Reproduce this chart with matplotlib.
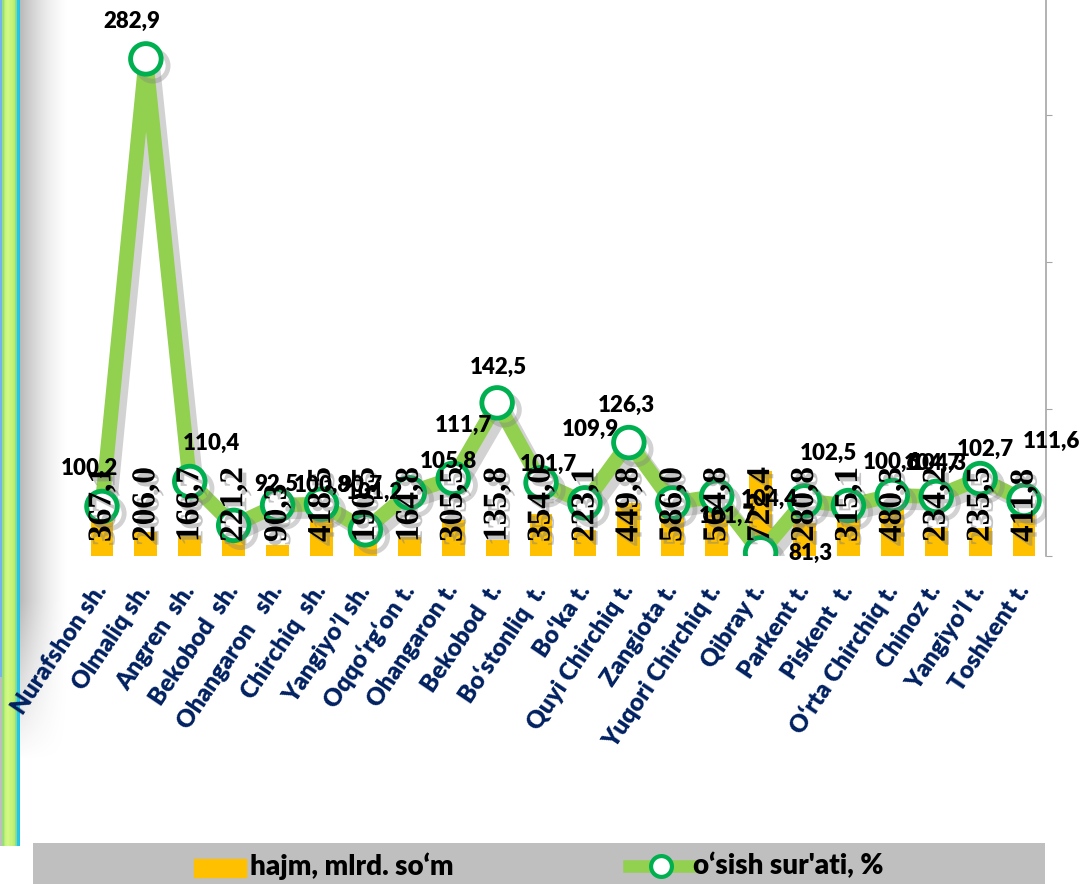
import numpy as np
import matplotlib
matplotlib.use("Agg")
import matplotlib.pyplot as plt
import matplotlib.patheffects as pe
from matplotlib.patches import Rectangle
from matplotlib.lines import Line2D

plt.rcParams['font.family'] = ['Lato', 'DejaVu Sans']

districts = ["Nurafshon sh.", "Olmaliq sh.", "Angren  sh.", "Bekobod  sh.", "Ohangaron   sh.",
             "Chirchiq  sh.", "Yangiyo’l sh.", "Oqqo‘rg‘on t.", "Ohangaron t.", "Bekobod  t.",
             "Bo‘stonliq  t.", "Bo‘ka t.", "Quyi Chirchiq t.", "Zangiota t.", "Yuqori Chirchiq t.",
             "Qibray t.", "Parkent t.", "Piskent  t.", "O‘rta Chirchiq t.", "Chinoz t.",
             "Yangiyo’l t.", "Toshkent t."]

# hajm, mlrd. so'm
volume = [367.1, 206.0, 166.7, 221.2, 90.3, 418.5, 190.5, 164.8, 305.5, 135.8, 354.0,
          223.1, 449.8, 586.0, 564.8, 722.4, 280.8, 315.1, 480.3, 234.2, 235.5, 411.8]

# o'sish sur'ati, %
rate = [100.2, 282.9, 110.4, 92.5, 100.8, 101.2, 90.7, 105.8, 111.7, 142.5, 109.9,
        101.7, 126.3, 101.7, 104.4, 81.3, 102.5, 100.6, 104.7, 104.3, 111.6, 102.7]

# where each rate label sits relative to its marker (pixels, as in the original)
label_offsets = [(-13, 38), (-14, 37), (22, 38), (43, 41), (45, 20), (53, 12), (-5, 44),
                 (39, 31), (10, 53), (1, 35), (49, 53), (-37, 38), (-2, 37), (55, -14),
                 (53, -3), (50, -1), (24, 47), (43, 43), (40, 32), (2, 33), (71, 37), (-39, 51)]

W, H = 1080, 884
fig = plt.figure(figsize=(W / 100, H / 100), dpi=100)
fig.patch.set_facecolor('white')

def px_box(x0, y0, x1, y1):
    # pixel box (top-left origin) -> figure fraction rect
    return [x0 / W, (H - y1) / H, (x1 - x0) / W, (y1 - y0) / H]

# left decorative stripe
stripe_h = 846
cols = ['#74B2EC', '#74B2EC', '#98DE7C', '#98DE7C', '#B4EC76', '#C8F47A', '#CCF67E', '#D0F882',
        '#D0F882', '#CCF67E', '#C8F47A', '#C8F47A', '#C4F278', '#BEEE76', '#B4EC76', '#98DE7C',
        '#7ED8A0', '#22C8E6', '#22C8E6', '#1FC2E2']
img = np.zeros((stripe_h, len(cols), 3))
for j, c in enumerate(cols):
    img[:, j, :] = matplotlib.colors.to_rgb(c)
img[677:, 0:2, :] = matplotlib.colors.to_rgb('#BDBDBD')
ax_s = fig.add_axes(px_box(0, 0, 20, stripe_h))
ax_s.imshow(img, aspect='auto', interpolation='nearest')
ax_s.axis('off')

# soft shadow next to the stripe
sh_w, sh_h = 50, 760
shade = np.zeros((sh_h, sh_w, 4))
shade[..., :3] = 0.55
xa = np.linspace(1, 0, sh_w) ** 1.6
ya = np.ones(sh_h)
ya[-160:] = np.linspace(1, 0, 160)
shade[..., 3] = 0.6 * np.outer(ya, xa)
ax_sh = fig.add_axes(px_box(20, 0, 20 + sh_w, sh_h))
ax_sh.imshow(shade, aspect='auto', interpolation='bilinear')
ax_sh.axis('off')

# main chart
ax = fig.add_axes(px_box(80, 0, 1046, 556))
ax.set_facecolor('none')
x = np.arange(len(districts))
ax.bar(x, volume, width=0.52, color='#FFC000', zorder=2)
ax.set_xlim(-0.5, len(districts) - 0.5)
ax.set_ylim(0, 4712)

ax2 = ax.twinx()
for s in ax.spines.values():
    s.set_visible(False)
ax.tick_params(axis='y', left=False, right=False, labelleft=False)
ax.tick_params(axis='x', length=0, pad=22)
ax.set_xticks(x)
ax.set_xticklabels(districts, rotation=56, ha='right', va='center', rotation_mode='anchor',
                   fontsize=17.5, fontweight='heavy', color='#002060')

ax2.plot(x, rate, color='#92D050', lw=10.5, marker='o', ms=22, mfc='white', mec='#00B050',
         mew=3.5, zorder=3,
         path_effects=[pe.SimpleLineShadow(offset=(5, -5), shadow_color='#808080', alpha=0.35),
                       pe.Normal()])
ax2.set_ylim(80, 80 + 556 / 2.45)
ax2.set_yticks([80, 140, 200, 260])
ax2.tick_params(axis='y', direction='out', length=4, color='#A6A6A6', labelright=False)
for k in ['top', 'left', 'bottom']:
    ax2.spines[k].set_visible(False)
ax2.spines['right'].set_color('#A6A6A6')
ax2.spines['right'].set_linewidth(1.2)

txt_shadow = [pe.SimplePatchShadow(offset=(3, -3), shadow_rgbFace='#808080', alpha=0.45), pe.Normal()]

# bar value labels (sit at the bar base, on top of everything)
for i, v in enumerate(volume):
    ax2.annotate(f"{v:.1f}".replace('.', ','), xy=(i, 0), xycoords=('data', 'axes fraction'),
                 xytext=(0, 14), textcoords='offset pixels', rotation=90, ha='center', va='bottom',
                 fontsize=24, fontweight='bold', family='Liberation Serif', color='black',
                 zorder=6, path_effects=txt_shadow)

# growth rate labels
for i, v in enumerate(rate):
    dx, dy = label_offsets[i]
    ax2.annotate(f"{v:.1f}".replace('.', ','), xy=(i, v), xytext=(dx, dy),
                 textcoords='offset pixels', ha='center', va='center',
                 fontsize=16, fontweight='heavy', color='black', zorder=7)

# legend band
lg = fig.add_axes(px_box(33, 843, 1045, 884))
lg.set_xlim(33, 1045)
lg.set_ylim(884, 843)
lg.set_facecolor('#BFBFBF')
lg.set_xticks([])
lg.set_yticks([])
for s in lg.spines.values():
    s.set_visible(False)
lg.add_patch(Rectangle((194, 859), 52, 18, color='#FFC000'))
lg.text(250, 866, "hajm, mlrd. so‘m", ha='left', va='center', fontsize=20, fontweight='heavy')
lg.add_line(Line2D([629, 692], [866, 866], color='#92D050', lw=9))
lg.add_line(Line2D([661], [866], marker='o', ms=15, mfc='white', mec='#00B050', mew=3))
lg.text(693, 866, "o‘sish sur'ati, %", ha='left', va='center', fontsize=20, fontweight='heavy')

fig.savefig("out.png", dpi=100)
